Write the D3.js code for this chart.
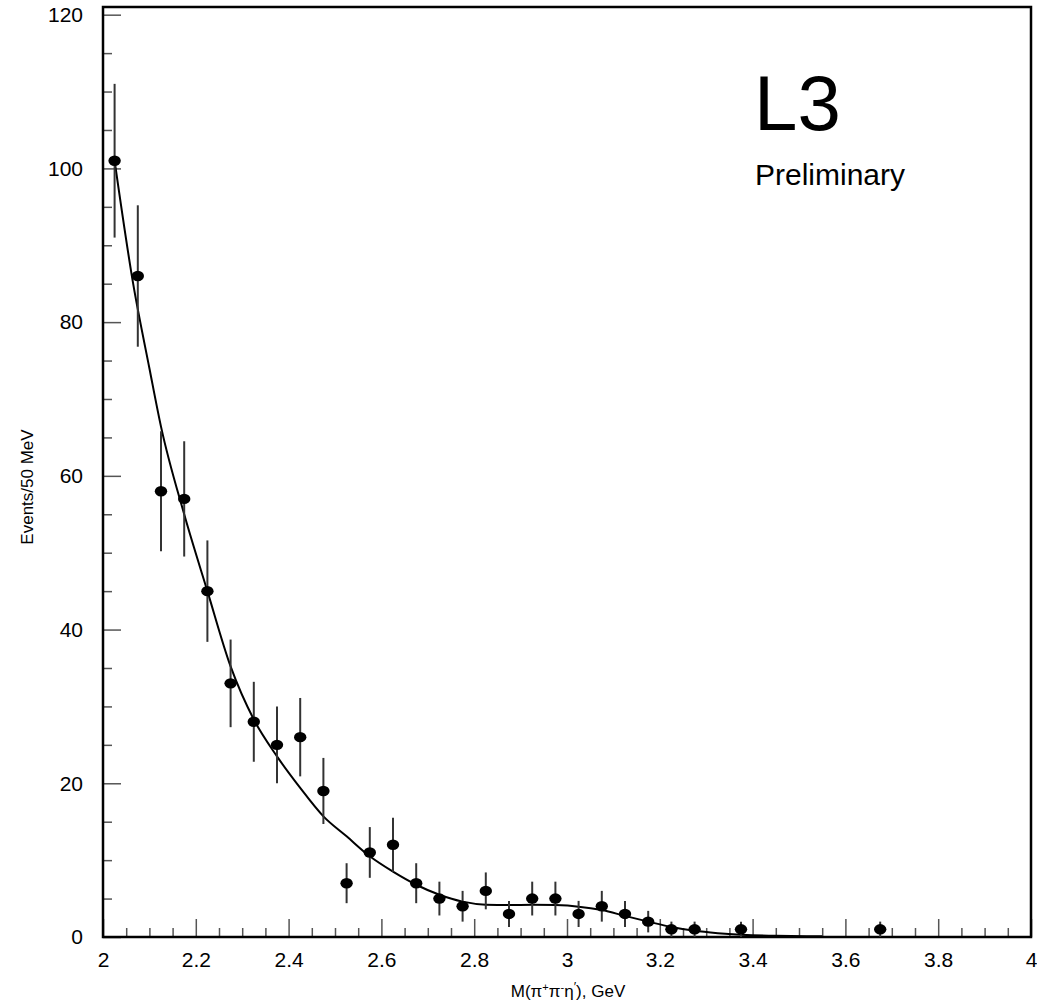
<!DOCTYPE html>
<meta charset="utf-8">
<style>
body { margin: 0; background: #fff; }
svg text { font-family: "Liberation Sans", Arial, Helvetica, sans-serif; fill: #000; }
.tick line { stroke: #555; stroke-width: 1.5; }
.tick text { font-size: 21px; }
</style>
<svg width="1037" height="1004"></svg>
<script src="https://d3js.org/d3.v7.min.js"></script>
<script>

// bin centres (GeV), counts per 50 MeV, and error bar half-heights
var massBins = [2.025, 2.075, 2.125, 2.175, 2.225, 2.275, 2.325, 2.375, 2.425, 2.475,
                2.525, 2.575, 2.625, 2.675, 2.725, 2.775, 2.825, 2.875, 2.925, 2.975,
                3.025, 3.075, 3.125, 3.175, 3.225, 3.275, 3.375, 3.675];
var events   = [101, 86, 58, 57, 45, 33, 28, 25, 26, 19,
                7, 11, 12, 7, 5, 4, 6, 3, 5, 5,
                3, 4, 3, 2, 1, 1, 1, 1];
var errors   = [10, 9.2, 7.8, 7.5, 6.6, 5.7, 5.2, 5, 5.1, 4.3,
                2.6, 3.3, 3.5, 2.6, 2.2, 2, 2.4, 1.7, 2.2, 2.2,
                1.7, 2, 1.7, 1.4, 1, 1, 1, 1];

// fitted curve
var fitMass  = [2.025, 2.065, 2.1, 2.125, 2.175, 2.225, 2.275, 2.325, 2.375, 2.425,
                2.475, 2.525, 2.575, 2.625, 2.675, 2.725, 2.775, 2.825, 2.875, 2.925,
                2.975, 3.025, 3.075, 3.125, 3.175, 3.225, 3.275, 3.325, 3.375, 3.45, 3.55];
var fitValue = [101, 85, 74, 66.4, 55, 45, 35.2, 28.3, 23.5, 19.4,
                15.7, 13.1, 10.5, 8.5, 6.8, 5.5, 4.6, 4.2, 4.15, 4.2,
                4.15, 3.95, 3.5, 2.75, 2.0, 1.3, 0.8, 0.5, 0.3, 0.15, 0.1];

var xMajor = [2, 2.2, 2.4, 2.6, 2.8, 3, 3.2, 3.4, 3.6, 3.8, 4];
var xTickLabels = ["2", "2.2", "2.4", "2.6", "2.8", "3", "3.2", "3.4", "3.6", "3.8", "4"];
var yMajor = [0, 20, 40, 60, 80, 100, 120];
var yTickLabels = ["0", "20", "40", "60", "80", "100", "120"];

var svg = d3.select("svg");

var plotL = 103, plotR = 1031, plotT = 7, plotB = 937;

var x = d3.scaleLinear().domain([2, 4]).range([plotL, plotR]);
var y = d3.scaleLinear().domain([0, 121]).range([plotB, plotT]);

var xMinor = d3.range(0, 41).map(function(i) { return 2 + i * 0.05; })
    .filter(function(v) { return Math.abs(v * 5 - Math.round(v * 5)) > 1e-6; });
var yMinor = d3.range(0, 25).map(function(i) { return i * 5; })
    .filter(function(v) { return v % 20 != 0; });

// minor ticks
svg.append("g")
    .attr("transform", "translate(0," + plotB + ")")
    .call(d3.axisBottom(x).tickValues(xMinor).tickSizeInner(-9).tickSizeOuter(0).tickFormat(""))
    .call(function(g) { g.select(".domain").remove(); });
svg.append("g")
    .attr("transform", "translate(" + plotL + ",0)")
    .call(d3.axisLeft(y).tickValues(yMinor).tickSizeInner(-9).tickSizeOuter(0).tickFormat(""))
    .call(function(g) { g.select(".domain").remove(); });

// major ticks + labels
svg.append("g")
    .attr("transform", "translate(0," + plotB + ")")
    .call(d3.axisBottom(x).tickValues(xMajor).tickSizeInner(-18).tickSizeOuter(0)
        .tickPadding(15)
        .tickFormat(function(d, i) { return xTickLabels[i]; }))
    .call(function(g) { g.select(".domain").remove(); });
svg.append("g")
    .attr("transform", "translate(" + plotL + ",0)")
    .call(d3.axisLeft(y).tickValues(yMajor).tickSizeInner(-18).tickSizeOuter(0)
        .tickPadding(20)
        .tickFormat(function(d, i) { return yTickLabels[i]; }))
    .call(function(g) { g.select(".domain").remove(); });

svg.selectAll(".tick text").attr("fill", "#000");

// frame
svg.append("rect")
    .attr("x", plotL).attr("y", plotT)
    .attr("width", plotR - plotL).attr("height", plotB - plotT)
    .attr("fill", "none").attr("stroke", "#000").attr("stroke-width", 2.5);

// fit curve
var fitPts = fitMass.map(function(m, i) { return [m, fitValue[i]]; });
svg.append("path")
    .datum(fitPts)
    .attr("fill", "none")
    .attr("stroke", "#000")
    .attr("stroke-width", 2)
    .attr("d", d3.line()
        .x(function(d) { return x(d[0]); })
        .y(function(d) { return y(d[1]); })
        .curve(d3.curveMonotoneX));

// error bars
svg.append("g").selectAll("line")
    .data(massBins)
    .join("line")
    .attr("x1", function(d) { return x(d); })
    .attr("x2", function(d) { return x(d); })
    .attr("y1", function(d, i) { return y(events[i] + errors[i]); })
    .attr("y2", function(d, i) { return y(Math.max(0, events[i] - errors[i])); })
    .attr("stroke", "#333")
    .attr("stroke-width", 2);

// points
svg.append("g").selectAll("ellipse")
    .data(massBins)
    .join("ellipse")
    .attr("cx", function(d) { return x(d); })
    .attr("cy", function(d, i) { return y(events[i]); })
    .attr("rx", 6.2)
    .attr("ry", 5.2)
    .attr("fill", "#000");

// labels
svg.append("text")
    .attr("x", 568).attr("y", 997)
    .attr("text-anchor", "middle")
    .style("font-size", "17px")
    .call(function(t) {
        t.append("tspan").text("M(π");
        t.append("tspan").attr("dy", -6).style("font-size", "11px").text("+");
        t.append("tspan").attr("dy", 6).text("π");
        t.append("tspan").attr("dy", -6).style("font-size", "11px").text("-");
        t.append("tspan").attr("dy", 6).text("η");
        t.append("tspan").attr("dy", -6).style("font-size", "13px").text("′");
        t.append("tspan").attr("dy", 6).text("), GeV");
    });

svg.append("text")
    .attr("transform", "translate(33,487) rotate(-90)")
    .attr("text-anchor", "middle")
    .style("font-size", "17px")
    .text("Events/50 MeV");

svg.append("text")
    .attr("x", 754).attr("y", 130)
    .style("font-size", "78px")
    .text("L3");

svg.append("text")
    .attr("x", 755).attr("y", 185)
    .style("font-size", "30px")
    .text("Preliminary");

</script>
